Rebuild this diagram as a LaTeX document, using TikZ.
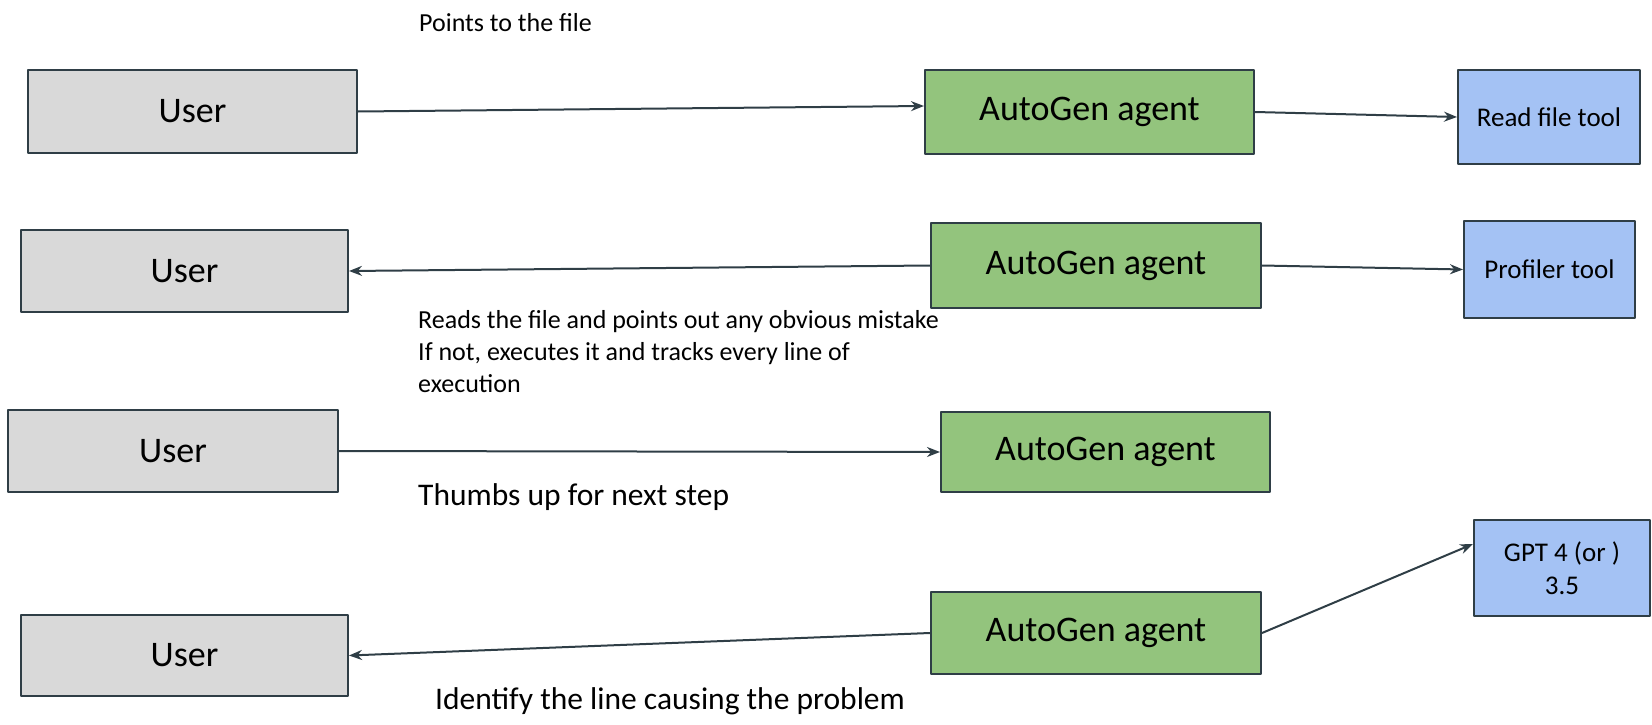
\documentclass[tikz,border=0pt]{standalone}
\usepackage{fontspec}
\setmainfont{Carlito}
\usetikzlibrary{arrows.meta}
\definecolor{usergray}{HTML}{D9D9D9}
\definecolor{agentgreen}{HTML}{93C47D}
\definecolor{toolblue}{HTML}{A4C2F4}
\definecolor{edgedark}{HTML}{2F3E46}
\newcommand{\bigtxt}{\fontsize{36}{43}\selectfont}
\newcommand{\toolbtxt}{\fontsize{27}{33}\selectfont}
\newcommand{\notetxt}{\fontsize{26}{32}\selectfont}
\newcommand{\stepbtxt}{\fontsize{31.5}{38}\selectfont}
\begin{document}
\begin{tikzpicture}[x=1pt, y=-1pt, line join=round, >={Stealth[length=13pt,width=10pt]},
	userbox/.style={draw=edgedark, line width=2pt, fill=usergray, minimum width=329pt, minimum height=82pt, font=\bigtxt},
	agentbox/.style={draw=edgedark, line width=2pt, fill=agentgreen, minimum width=329pt, minimum height=82pt, font=\bigtxt},
	toolbox/.style={draw=edgedark, line width=2pt, fill=toolblue, minimum height=95pt, font=\toolbtxt, align=center},
	link/.style={->, draw=edgedark, line width=2pt},
	note/.style={inner sep=0pt, anchor=west, align=left}]
	\useasboundingbox (0,0) rectangle (1652,725);
	% row 1
	\node[userbox] (user1) at (192.5,111.5) {User};
	\node[agentbox, minimum height=84pt] (agent1) at (1089.5,112) {AutoGen agent};
	\node[toolbox, minimum width=182pt, minimum height=94pt] (readtool) at (1549,117) {Read file tool};
	\node[note, font=\notetxt] (pointnote) at (419,23) {Points to the file};
	\draw[link] (user1.east) -- ([yshift=6pt]agent1.west);
	\draw[link] (agent1.east) -- (readtool.west);
	% row 2
	\node[userbox, minimum width=327pt] (user2) at (184.5,271) {User};
	\node[agentbox, minimum width=330pt, minimum height=85pt] (agent2) at (1096,265.5) {AutoGen agent};
	\node[toolbox, minimum width=171pt, minimum height=97pt] (proftool) at (1549.5,269.5) {Profiler tool};
	\node[note, font=\notetxt] (readnote) at (418,352) {Reads the file and points out any obvious mistake\\If not, executes it and tracks every line of\\execution};
	\draw[link] (agent2.west) -- (user2.east);
	\draw[link] (agent2.east) -- (proftool.west);
	% row 3
	\node[userbox, minimum width=330pt] (user3) at (173,451) {User};
	\node[agentbox, minimum height=80pt] (agent3) at (1105.5,452) {AutoGen agent};
	\node[note, font=\stepbtxt] (thumbnote) at (418,497) {Thumbs up for next step};
	\draw[link] (user3.east) -- (agent3.west);
	% row 4
	\node[toolbox, minimum width=176pt, minimum height=96pt] (gpt) at (1562,568) {GPT 4 (or )\\3.5};
	\node[userbox, minimum width=327pt, minimum height=81pt] (user4) at (184.5,655.5) {User};
	\node[agentbox, minimum width=330pt] (agent4) at (1096,633) {AutoGen agent};
	\node[note, font=\stepbtxt] (problemnote) at (435,701) {Identify the line causing the problem};
	\draw[link] (agent4.west) -- (user4.east);
	\draw[link] (agent4.east) -- ([yshift=24pt]gpt.west);
\end{tikzpicture}
\end{document}
